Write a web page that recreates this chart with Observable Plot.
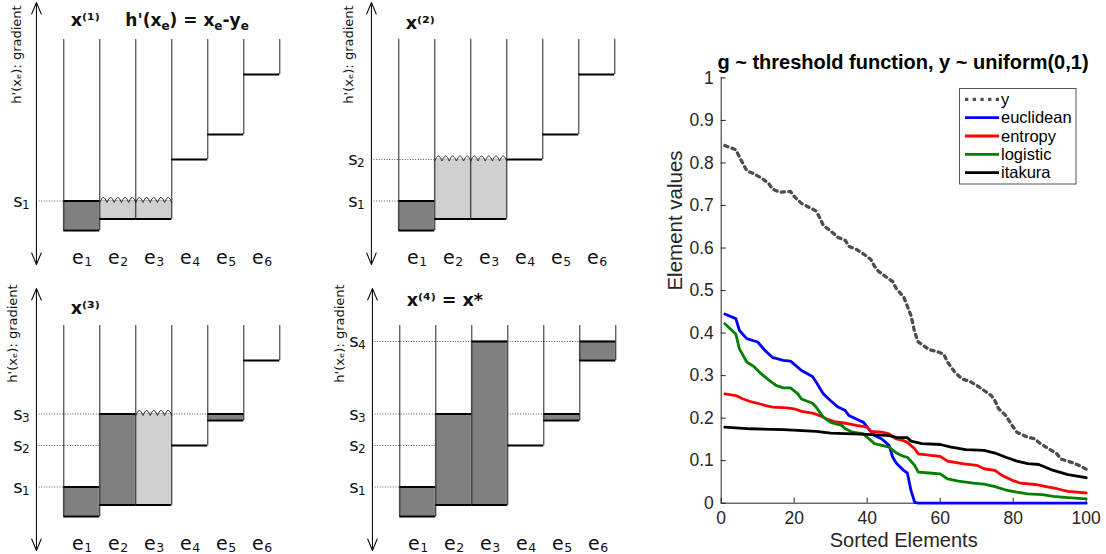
<!DOCTYPE html>
<html><head><meta charset="utf-8">
<script src="https://cdn.jsdelivr.net/npm/d3@7"></script>
<script src="https://cdn.jsdelivr.net/npm/@observablehq/plot@0.6"></script>
<style>
html,body{margin:0;padding:0;background:#fff;}
#root{position:relative;width:1106px;height:554px;overflow:hidden;background:#fff;}
.pane{position:absolute;}
.pane svg{overflow:visible;}
</style></head><body><div id="root"></div>
<script>
// ---------------- data: left diagrams (water-filling illustration) ----------------
const elements = ["e1","e2","e3","e4","e5","e6"];
const columnBottom = [0, 1.15, 1.15, 7.1, 9.6, 15.6];      // h'(0) per element (column floor)
const levelNames = ["s1","s2","s3","s4"];
const levelValues = [2.95, 7.1, 10.25, 17.5];
const levelReach = [0, 3, 4, 5];                            // boundary where each guide ends
const panelTitles = ["x⁽¹⁾","x⁽²⁾","x⁽³⁾","x⁽⁴⁾ = x*"];
const panelFillLevel = [
  [0,0,0,null,null,null],
  [0,1,1,null,null,null],
  [0,2,2,null,2,null],
  [0,2,3,null,2,3]
];
const panelFillKind = [
  ["dark","light","light",null,null,null],
  ["dark","light","light",null,null,null],
  ["dark","dark","light",null,"dark",null],
  ["dark","dark","dark",null,"dark","dark"]
];
const gradientLabel = "h'(xₑ): gradient";
const formulaParts = [["h'(x", false], ["e", true], [") = x", false], ["e", true], ["-y", false], ["e", true]];

// ---------------- data: right chart ----------------
const xTicks = [0,20,40,60,80,100];
const yTicks = [0,0.1,0.2,0.3,0.4,0.5,0.6,0.7,0.8,0.9,1];
const seriesNames = ["y","euclidean","entropy","logistic","itakura"];
const seriesColors = ["#4d4d4d","#0000ff","#ff0000","#008000","#000000"];

const yIdx = [1,4,5,7,9,11,13,14,16,19,20,22,24,26,27,28,30,32,34,35,37,39,41,42,43,45,47,48,50,52,53,54,57,59,61,62,64,66,68,70,72,74,75,76,78,80,81,84,86,87,89,92,93,96,98,100];
const yVal = [.841,.831,.814,.782,.774,.765,.752,.739,.731,.733,.721,.705,.696,.687,.671,.653,.640,.625,.618,.604,.597,.586,.573,.557,.546,.533,.521,.504,.485,.441,.402,.379,.361,.357,.350,.332,.308,.292,.287,.277,.265,.253,.241,.222,.206,.179,.167,.155,.151,.143,.132,.116,.104,.096,.089,.080];

const euclIdx = [1,4,5,7,10,12,14,17,19,22,25,26,28,30,32,34,35,37,39,40,42,44,46,47,48,50,51,52,53,54,60,70,80,90,100];
const euclVal = [.445,.434,.406,.387,.379,.359,.343,.336,.334,.312,.298,.285,.257,.241,.226,.218,.206,.198,.190,.179,.159,.151,.136,.108,.094,.077,.071,.030,.002,0,0,0,0,0,0];

const entrIdx = [1,4,6,8,10,12,14,18,20,22,25,27,29,31,34,37,40,41,44,46,48,50,51,53,54,58,60,62,66,70,72,75,77,80,82,86,89,92,95,100];
const entrVal = [.257,.253,.245,.239,.235,.230,.226,.224,.222,.216,.212,.206,.198,.192,.188,.183,.179,.169,.167,.163,.151,.147,.143,.128,.116,.112,.110,.099,.093,.089,.081,.077,.065,.053,.047,.044,.039,.034,.028,.024];

const logiIdx = [1,4,5,7,9,11,13,15,17,19,21,22,25,26,28,30,33,34,36,39,40,42,44,46,48,50,51,53,54,57,60,62,65,69,72,75,78,81,84,88,91,95,100];
const logiVal = [.422,.398,.363,.332,.321,.304,.290,.277,.271,.271,.257,.245,.235,.226,.202,.190,.183,.175,.167,.163,.155,.140,.136,.132,.118,.110,.108,.089,.073,.071,.069,.057,.052,.047,.045,.039,.031,.026,.022,.020,.016,.013,.010];

const itakIdx = [1,8,17,26,30,40,46,48,51,52,55,60,63,67,72,75,78,81,84,87,91,95,100];
const itakVal = [.179,.175,.173,.169,.165,.162,.159,.155,.154,.146,.140,.138,.132,.126,.124,.118,.108,.099,.093,.091,.077,.067,.060];

// ---------------- build ----------------
const root = document.getElementById("root");
const LEFT_FONT = "'DejaVu Sans', Lato, sans-serif";
const WALL_TOP = 19.1, AXIS_X = -0.76, AXIS_LO = -3.4, AXIS_HI = 22.8;
const COL_PX = 36;
const panelPos = [[0,0],[335,0],[0,286],[336,286]];
const titleY = [20.45, 20.2, 20.3, 21.1];
const gradLabelX = [-1.3, -1.39, -1.41, -1.66];
const gradLabelY = [17.6, 17.6, 18.3, 18.3];

// measure text widths for composing formula with real-size subscripts
const ctx = document.createElement("canvas").getContext("2d");
function measure(s, size, weight) { ctx.font = `${weight} ${size}px 'DejaVu Sans'`; return ctx.measureText(s).width; }
const FORM_MAIN = 17, FORM_SUB = 12;
let acc = 0;
const formulaPieces = formulaParts.map(([s, sub]) => {
  const w = measure(s, sub ? FORM_SUB : FORM_MAIN, "bold");
  const piece = {s, sub, off: acc};
  acc += w;
  return piece;
});

function panel(p) {
  const fills = [];
  panelFillLevel[p].forEach((lv, i) => {
    if (lv != null) fills.push({x1: i, x2: i + 1, y1: columnBottom[i], y2: levelValues[lv], kind: panelFillKind[p][i]});
  });
  const levels = levelValues.slice(0, p + 1).map((v, j) => ({v, name: levelNames[j], reach: levelReach[j]}));
  const walls = d3.range(7).map(b => ({b, bottom: d3.min([columnBottom[b - 1], columnBottom[b]].filter(v => v !== undefined))}));
  const floors = columnBottom.map((v, i) => ({x1: i, x2: i + 1, y: v}));
  const waves = fills.filter(f => f.kind === "light").flatMap((f, k) =>
    d3.range(0, 61).map(t => ({k, x: f.x1 + t / 60, y: f.y2 - 0.15 + 0.5 * Math.abs(Math.sin(Math.PI * 5 * t / 60))})));
  const mid = (AXIS_LO + AXIS_HI) / 2;
  const marks = [
    Plot.ruleY(levels, {y: "v", x1: AXIS_X, x2: "reach", stroke: "#444", strokeWidth: 0.9, strokeDasharray: "1,1.6"}),
    Plot.rect(fills.filter(f => f.kind === "light"), {x1: "x1", x2: "x2", y1: "y1", y2: "y2", fill: "#d0d0d0", stroke: "#b8b8b8", strokeWidth: 1}),
    Plot.rect(fills.filter(f => f.kind === "dark"), {x1: "x1", x2: "x2", y1: "y1", y2: "y2", fill: "#808080", stroke: "#aaaaaa", strokeWidth: 1}),
    Plot.ruleY(fills.filter(f => f.kind === "dark"), {x1: "x1", x2: "x2", y: "y2", stroke: "#000", strokeWidth: 2}),
    Plot.line(waves, {x: "x", y: "y", z: "k", stroke: "#2a2a2a", strokeWidth: 1}),
    Plot.ruleX(walls, {x: "b", y1: WALL_TOP, y2: "bottom", stroke: "#222", strokeWidth: 1}),
    Plot.ruleY(floors, {x1: "x1", x2: "x2", y: "y", stroke: "#000", strokeWidth: 2}),
    Plot.arrow([{y1: mid, y2: AXIS_HI}, {y1: mid, y2: AXIS_LO}], {x1: AXIS_X, x2: AXIS_X, y1: "y1", y2: "y2", stroke: "#111", strokeWidth: 1.1, headAngle: 45, headLength: 17}),
    // level labels s_k
    Plot.text(levels, {x: -0.95, y: "v", text: d => d.name[0], textAnchor: "end", dx: -7, fontSize: 18, fill: "#111"}),
    Plot.text(levels, {x: -0.95, y: "v", text: d => d.name.slice(1), textAnchor: "end", dy: 4, fontSize: 12, fill: "#111"}),
    // element labels e_k
    Plot.text(elements, {x: (d, i) => i + 0.5, y: -2.7, text: d => d[0], textAnchor: "end", dx: 2, fontSize: 19, fill: "#111"}),
    Plot.text(elements, {x: (d, i) => i + 0.5, y: -2.7, text: d => d.slice(1), textAnchor: "start", dx: 2.5, dy: 4.5, fontSize: 12.5, fill: "#111"}),
    Plot.text([panelTitles[p]], {x: 0.19, y: titleY[p], textAnchor: "start", lineAnchor: "bottom", fontSize: 17.5, fontWeight: "bold", fill: "#111"}),
    Plot.text([gradientLabel], {x: gradLabelX[p], y: gradLabelY[p], rotate: -90, fontSize: 13, fill: "#111"})
  ];
  if (p === 0) {
    marks.push(Plot.text(formulaPieces, {
      x: d => 1.71 + d.off / COL_PX, y: 20.45, text: "s", textAnchor: "start", lineAnchor: "bottom",
      fontSize: d => d.sub ? FORM_SUB : FORM_MAIN, dy: 0, fontWeight: "bold", fill: "#111"
    }));
  }
  return Plot.plot({
    width: 330, height: 284, margin: 0,
    x: {domain: [-1.7583, 7.4083], axis: null},
    y: {domain: [-5.4, 23], axis: null},
    style: {background: "transparent", fontFamily: LEFT_FONT, overflow: "visible"},
    marks
  });
}

for (let p = 0; p < 4; ++p) {
  const div = document.createElement("div");
  div.className = "pane";
  div.style.left = panelPos[p][0] + "px";
  div.style.top = panelPos[p][1] + "px";
  const svg = panel(p);
  // lower the subscript pieces of the formula
  if (p === 0) d3.select(svg).selectAll("text").filter(function() { return this.getAttribute("font-size") === String(FORM_SUB) || this.style.fontSize === FORM_SUB + "px"; })
    .attr("transform", function() { return (this.getAttribute("transform") || "") + " translate(0,4)"; });
  div.appendChild(svg);
  root.appendChild(div);
}

// right chart
const idxs = [yIdx, euclIdx, entrIdx, logiIdx, itakIdx];
const vals = [yVal, euclVal, entrVal, logiVal, itakVal];
const rows = seriesNames.map((s, k) => idxs[k].map((x, i) => ({series: s, x, v: vals[k][i]})));
const AX = "#262626";
const RIGHT_FONT = "'Liberation Sans', Arial, Helvetica, sans-serif";
const right = Plot.plot({
  width: 456, height: 554,
  marginLeft: 70.7, marginRight: 20.3, marginTop: 77.4, marginBottom: 51.3,
  style: {background: "transparent", fontFamily: RIGHT_FONT, fontSize: "17.5px", color: AX, overflow: "visible"},
  x: {domain: [0, 100]},
  y: {domain: [0, 1]},
  marks: [
    Plot.axisX({ticks: xTicks, tickSize: -5, tickPadding: 13, label: null, tickFormat: d3.format("~g"), stroke: AX, fill: AX}),
    Plot.axisY({ticks: yTicks, tickSize: -5, tickPadding: 12.4, label: null, tickFormat: d3.format("~g"), stroke: AX, fill: AX}),
    Plot.ruleX([0], {stroke: AX, strokeWidth: 1}),
    Plot.ruleY([0], {stroke: AX, strokeWidth: 1}),
    Plot.line(rows[0], {x: "x", y: "v", stroke: seriesColors[0], strokeWidth: 3.3, strokeDasharray: "3.3,4.4"}),
    ...[1, 2, 3, 4].map(k => Plot.line(rows[k], {x: "x", y: "v", stroke: seriesColors[k], strokeWidth: 2.8})),
    Plot.text(["g ~ threshold function, y ~ uniform(0,1)"], {frameAnchor: "top", lineAnchor: "bottom", dy: -9.4, dx: -0.7, fontSize: 20, fontWeight: "bold", fill: "#000"}),
    Plot.text(["Sorted Elements"], {frameAnchor: "bottom", lineAnchor: "bottom", dy: 43.5, fontSize: 20, fill: AX}),
    Plot.text(["Element values"], {frameAnchor: "left", lineAnchor: "bottom", dx: -39, rotate: -90, fontSize: 20.5, fill: AX})
  ]
});
const rdiv = document.createElement("div");
rdiv.className = "pane";
rdiv.style.left = "650px";
rdiv.style.top = "0px";
rdiv.appendChild(right);
root.appendChild(rdiv);

// legend box
const lg = d3.select(root).append("svg")
  .attr("width", 118).attr("height", 97)
  .style("position", "absolute").style("left", "959px").style("top", "88px");
lg.append("rect").attr("x", 0.5).attr("y", 0.5).attr("width", 116.5).attr("height", 95.5)
  .attr("fill", "#fff").attr("stroke", "#555").attr("stroke-width", 1);
seriesNames.forEach((s, i) => {
  const cy = 11.3 + i * 18.35;
  lg.append("line").attr("x1", 6).attr("x2", 40).attr("y1", cy).attr("y2", cy)
    .attr("stroke", seriesColors[i]).attr("stroke-width", i === 0 ? 3.3 : 2.8)
    .attr("stroke-dasharray", i === 0 ? "3.3,4.4" : null);
  lg.append("text").attr("x", 42).attr("y", cy).attr("dy", "0.35em")
    .attr("font-family", RIGHT_FONT).attr("font-size", 16.5).attr("fill", "#000").text(s);
});
</script></body></html>
